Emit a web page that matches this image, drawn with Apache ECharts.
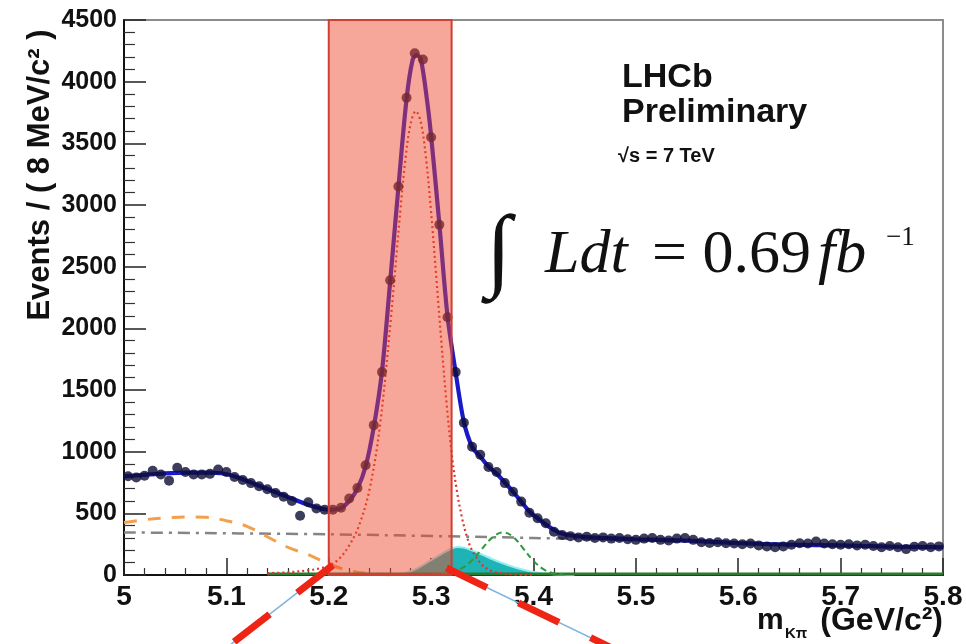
<!DOCTYPE html>
<html>
<head>
<meta charset="utf-8">
<title>B → Kπ invariant mass</title>
<script src="https://cdn.jsdelivr.net/npm/echarts@6/dist/echarts.min.js"></script>
<style>
  html, body { margin: 0; padding: 0; background: #fff; }
  #chart { width: 966px; height: 644px; }
</style>
</head>
<body>
<div id="chart"></div>
<script>
// ---- histogram: 8 MeV/c^2 bins from 5.0 to 5.8 GeV/c^2 ----
const binLow = 5.0;
const binWidth = 0.008;
const eventCounts = [
  800, 790, 805, 845, 815, 765, 870, 835, 815, 815,
  820, 855, 835, 795, 770, 745, 720, 695, 665, 635,
  600, 480, 590, 540, 530, 530, 545, 620, 705, 890,
  1215, 1645, 2390, 3150, 3870, 4230, 4180, 3550, 2840, 2090,
  1645, 1235, 1040, 975, 875, 835, 745, 675, 595, 505,
  460, 420, 350, 325, 315, 305, 310, 300, 305, 295,
  300, 290, 285, 295, 300, 285, 280, 295, 300, 285,
  265, 260, 265, 258, 255, 250, 255, 240, 232, 225,
  232, 245, 258, 255, 272, 255, 250, 245, 250, 240,
  245, 235, 225, 235, 225, 210, 230, 235, 225, 232
];

// ---- total fit ----
const fitMass = [5.000, 5.020, 5.040, 5.060, 5.080, 5.095, 5.110, 5.130, 5.150, 5.170,
  5.185, 5.200, 5.210, 5.220, 5.228, 5.236, 5.244, 5.252, 5.260, 5.268,
  5.276, 5.282, 5.286, 5.290, 5.296, 5.300, 5.308, 5.316, 5.324, 5.332,
  5.340, 5.348, 5.356, 5.364, 5.372, 5.380, 5.388, 5.396, 5.404, 5.412,
  5.420, 5.430, 5.445, 5.460, 5.480, 5.500, 5.550, 5.600, 5.650, 5.700,
  5.750, 5.800];
const fitTotal = [800, 812, 824, 830, 830, 825, 795, 730, 665, 600,
  555, 530, 535, 600, 700, 880, 1200, 1650, 2380, 3140,
  3860, 4180, 4215, 4180, 3850, 3560, 2850, 2100, 1640, 1240,
  1040, 960, 880, 820, 750, 675, 595, 515, 460, 410,
  365, 330, 312, 303, 297, 290, 278, 258, 246, 240,
  230, 225];

// ---- B0 -> K pi signal ----
const sigMass = [5.14, 5.16, 5.18, 5.19, 5.20, 5.21, 5.22, 5.23, 5.24, 5.25,
  5.26, 5.27, 5.275, 5.28, 5.285, 5.29, 5.295, 5.30, 5.305, 5.31,
  5.315, 5.32, 5.325, 5.33, 5.335, 5.34, 5.35, 5.36, 5.38, 5.40];
const sigYield = [15, 22, 38, 52, 75, 130, 240, 410, 700, 1210,
  2020, 2960, 3380, 3660, 3760, 3670, 3380, 2940, 2420, 1890,
  1400, 990, 690, 470, 310, 200, 80, 30, 5, 0];

// ---- combinatorial background ----
const combMass = [5.0, 5.2, 5.4, 5.6, 5.8];
const combYield = [345, 330, 300, 262, 222];

// ---- partially reconstructed background ----
const partMass = [5.00, 5.02, 5.04, 5.06, 5.08, 5.10, 5.12, 5.14, 5.16, 5.18, 5.20, 5.22, 5.24, 5.26];
const partYield = [425, 448, 462, 470, 468, 440, 395, 310, 225, 165, 90, 35, 10, 0];

// ---- misidentified two-body background (filled) ----
const misMass = [5.26, 5.27, 5.28, 5.29, 5.30, 5.31, 5.32, 5.326, 5.332, 5.34,
  5.35, 5.36, 5.37, 5.38, 5.39, 5.40, 5.41, 5.42, 5.44];
const misYield = [0, 8, 30, 70, 120, 170, 215, 228, 222, 200,
  165, 128, 95, 66, 42, 24, 12, 5, 0];

// ---- Bs -> K pi ----
const bsMass = [5.30, 5.32, 5.33, 5.34, 5.35, 5.36, 5.37, 5.38, 5.39, 5.40, 5.41, 5.42, 5.43];
const bsYield = [2, 20, 55, 120, 215, 305, 345, 310, 215, 115, 45, 12, 3];

// ---- small residual component along the baseline ----
const lowMass = [5.14, 5.8];
const lowYield = [8, 8];

// ---- signal window and its projection lines ----
const signalWindow = [5.2, 5.32];
const projLeftMass = [5.204, 5.097];
const projLeftY = [80, -610];
const projRightMass = [5.315, 5.4805];
const projRightY = [57, -608];

const yMax = 4500;

const zip = (xs, ys) => xs.map((x, i) => [x, ys[i]]);
const histPoints = eventCounts.map((n, i) => [binLow + binWidth * (i + 0.5), n]);

const chart = echarts.init(document.getElementById('chart'), null, { renderer: 'canvas' });

const labelFont = 'Liberation Sans';

chart.setOption({
  animation: false,
  backgroundColor: '#ffffff',
  grid: {
    left: 124, right: 23, top: 20, bottom: 69,
    show: true, borderColor: '#8c8c8c', borderWidth: 2, backgroundColor: 'transparent'
  },
  xAxis: {
    type: 'value', min: 5.0, max: 5.8, interval: 0.1,
    axisLine: { show: true, onZero: false, lineStyle: { color: '#111', width: 2 } },
    axisTick: { show: true, inside: true, length: 17, lineStyle: { color: '#222', width: 1.5 } },
    minorTick: { show: true, splitNumber: 5, length: 7, lineStyle: { color: '#333', width: 1.2 } },
    splitLine: { show: false },
    axisLabel: {
      show: true, margin: 8, color: '#111', fontFamily: labelFont, fontWeight: 'bold', fontSize: 28,
      showMinLabel: true, showMaxLabel: true,
      formatter: v => String(+v.toFixed(1))
    }
  },
  yAxis: {
    type: 'value', min: 0, max: yMax, interval: 500,
    axisLine: { show: true, onZero: false, lineStyle: { color: '#111', width: 2 } },
    axisTick: { show: true, inside: true, length: 22, lineStyle: { color: '#222', width: 1.5 } },
    minorTick: { show: true, splitNumber: 5, length: 11, lineStyle: { color: '#333', width: 1.2 } },
    splitLine: { show: false },
    axisLabel: {
      show: true, margin: 7, color: '#111', fontFamily: labelFont, fontWeight: 'bold', fontSize: 25,
      showMinLabel: true, showMaxLabel: true,
      formatter: v => String(Math.round(v))
    }
  },
  series: [
    {
      name: 'combinatorial', type: 'line', z: 2, symbol: 'none', smooth: 0.3,
      data: zip(combMass, combYield),
      lineStyle: { color: '#858585', width: 2.5, type: [12, 6, 3, 6] }
    },
    {
      name: 'partially reconstructed', type: 'line', z: 2, symbol: 'none', smooth: 0.4,
      data: zip(partMass, partYield),
      lineStyle: { color: '#f2a04e', width: 3, type: [13, 11] }
    },
    {
      name: 'misidentified', type: 'line', z: 2, symbol: 'none', smooth: 0.4,
      data: zip(misMass, misYield),
      lineStyle: { color: '#8ff0f2', width: 2 },
      areaStyle: { color: '#1fb3b6', opacity: 1 }
    },
    {
      name: 'residual', type: 'line', z: 2, symbol: 'none',
      data: zip(lowMass, lowYield),
      lineStyle: { color: '#2b7a30', width: 3 }
    },
    {
      name: 'Bs', type: 'line', z: 3, symbol: 'none', smooth: 0.4,
      data: zip(bsMass, bsYield),
      lineStyle: { color: '#2f9a3c', width: 2, type: [6, 4] }
    },
    {
      name: 'signal', type: 'line', z: 3, symbol: 'none', smooth: 0.35,
      data: zip(sigMass, sigYield),
      lineStyle: { color: '#e2322a', width: 2.2, type: [2, 3] }
    },
    {
      name: 'fit', type: 'line', z: 4, symbol: 'none', smooth: 0.3,
      data: zip(fitMass, fitTotal),
      lineStyle: { color: '#1a1ac8', width: 4.2 }
    },
    {
      name: 'data', type: 'scatter', z: 5, symbol: 'circle', symbolSize: 10,
      data: histPoints,
      itemStyle: { color: '#0c0c34' }
    },
    {
      name: 'window', type: 'custom', z: 6,
      data: [signalWindow],
      encode: { x: [0, 1] },
      renderItem: (params, api) => {
        const p0 = api.coord([api.value(0), yMax]);
        const p1 = api.coord([api.value(1), 0]);
        return {
          type: 'rect',
          shape: { x: p0[0], y: p0[1], width: p1[0] - p0[0], height: p1[1] - p0[1] },
          style: { fill: 'rgba(238,72,42,0.48)', stroke: '#cf3f32', lineWidth: 2 }
        };
      }
    },
    {
      name: 'proj-left-thin', type: 'line', z: 7, symbol: 'none', clip: false,
      data: zip(projLeftMass, projLeftY),
      lineStyle: { color: '#7fb3de', width: 1.5 }
    },
    {
      name: 'proj-right-thin', type: 'line', z: 7, symbol: 'none', clip: false,
      data: zip(projRightMass, projRightY),
      lineStyle: { color: '#7fb3de', width: 1.5 }
    },
    {
      name: 'proj-left', type: 'line', z: 8, symbol: 'none', clip: false,
      data: zip(projLeftMass, projLeftY),
      lineStyle: { color: '#ee2414', width: 7, type: [45, 35], cap: 'butt' }
    },
    {
      name: 'proj-right', type: 'line', z: 8, symbol: 'none', clip: false,
      data: zip(projRightMass, projRightY),
      lineStyle: { color: '#ee2414', width: 7, type: [45, 35], cap: 'butt' }
    }
  ],
  graphic: [
    {
      type: 'text', x: 40, y: 175, rotation: Math.PI / 2, z: 10,
      style: {
        text: 'Events / ( 8 MeV/c² )', fill: '#111',
        font: 'bold 31px "Liberation Sans"', align: 'center', verticalAlign: 'middle'
      }
    },
    {
      type: 'text', x: 757, y: 621, z: 10,
      style: { text: 'm', fill: '#111', font: 'bold 30px "Liberation Sans"', align: 'left', verticalAlign: 'middle' }
    },
    {
      type: 'text', x: 785, y: 634, z: 10,
      style: { text: 'Kπ', fill: '#111', font: 'bold 15px "Liberation Sans"', align: 'left', verticalAlign: 'middle' }
    },
    {
      type: 'text', x: 943, y: 621, z: 10,
      style: { text: '(GeV/c²)', fill: '#111', font: 'bold 32px "Liberation Sans"', align: 'right', verticalAlign: 'middle' }
    },
    {
      type: 'text', x: 622, y: 78, z: 10,
      style: { text: 'LHCb', fill: '#111', font: 'bold 34px "Liberation Sans"', align: 'left', verticalAlign: 'middle' }
    },
    {
      type: 'text', x: 622, y: 113, z: 10,
      style: { text: 'Preliminary', fill: '#111', font: 'bold 34px "Liberation Sans"', align: 'left', verticalAlign: 'middle' }
    },
    {
      type: 'text', x: 618, y: 156, z: 10,
      style: { text: '√s = 7 TeV', fill: '#111', font: 'bold 20px "Liberation Sans"', align: 'left', verticalAlign: 'middle' }
    },
    {
      type: 'text', x: 486, y: 255, z: 10,
      style: { text: '∫', fill: '#111', font: 'bold 92px "Liberation Serif"', align: 'left', verticalAlign: 'middle' }
    },
    {
      type: 'text', x: 545, y: 256, z: 10,
      style: { text: 'Ldt', fill: '#111', font: 'italic 62px "Liberation Serif"', align: 'left', verticalAlign: 'middle' }
    },
    {
      type: 'text', x: 652, y: 256, z: 10,
      style: { text: '= 0.69', fill: '#111', font: '62px "Liberation Serif"', align: 'left', verticalAlign: 'middle' }
    },
    {
      type: 'text', x: 818, y: 256, z: 10,
      style: { text: 'fb', fill: '#111', font: 'italic 62px "Liberation Serif"', align: 'left', verticalAlign: 'middle' }
    },
    {
      type: 'text', x: 886, y: 238, z: 10,
      style: { text: '−1', fill: '#111', font: '27px "Liberation Serif"', align: 'left', verticalAlign: 'middle' }
    }
  ]
});
</script>
</body>
</html>
